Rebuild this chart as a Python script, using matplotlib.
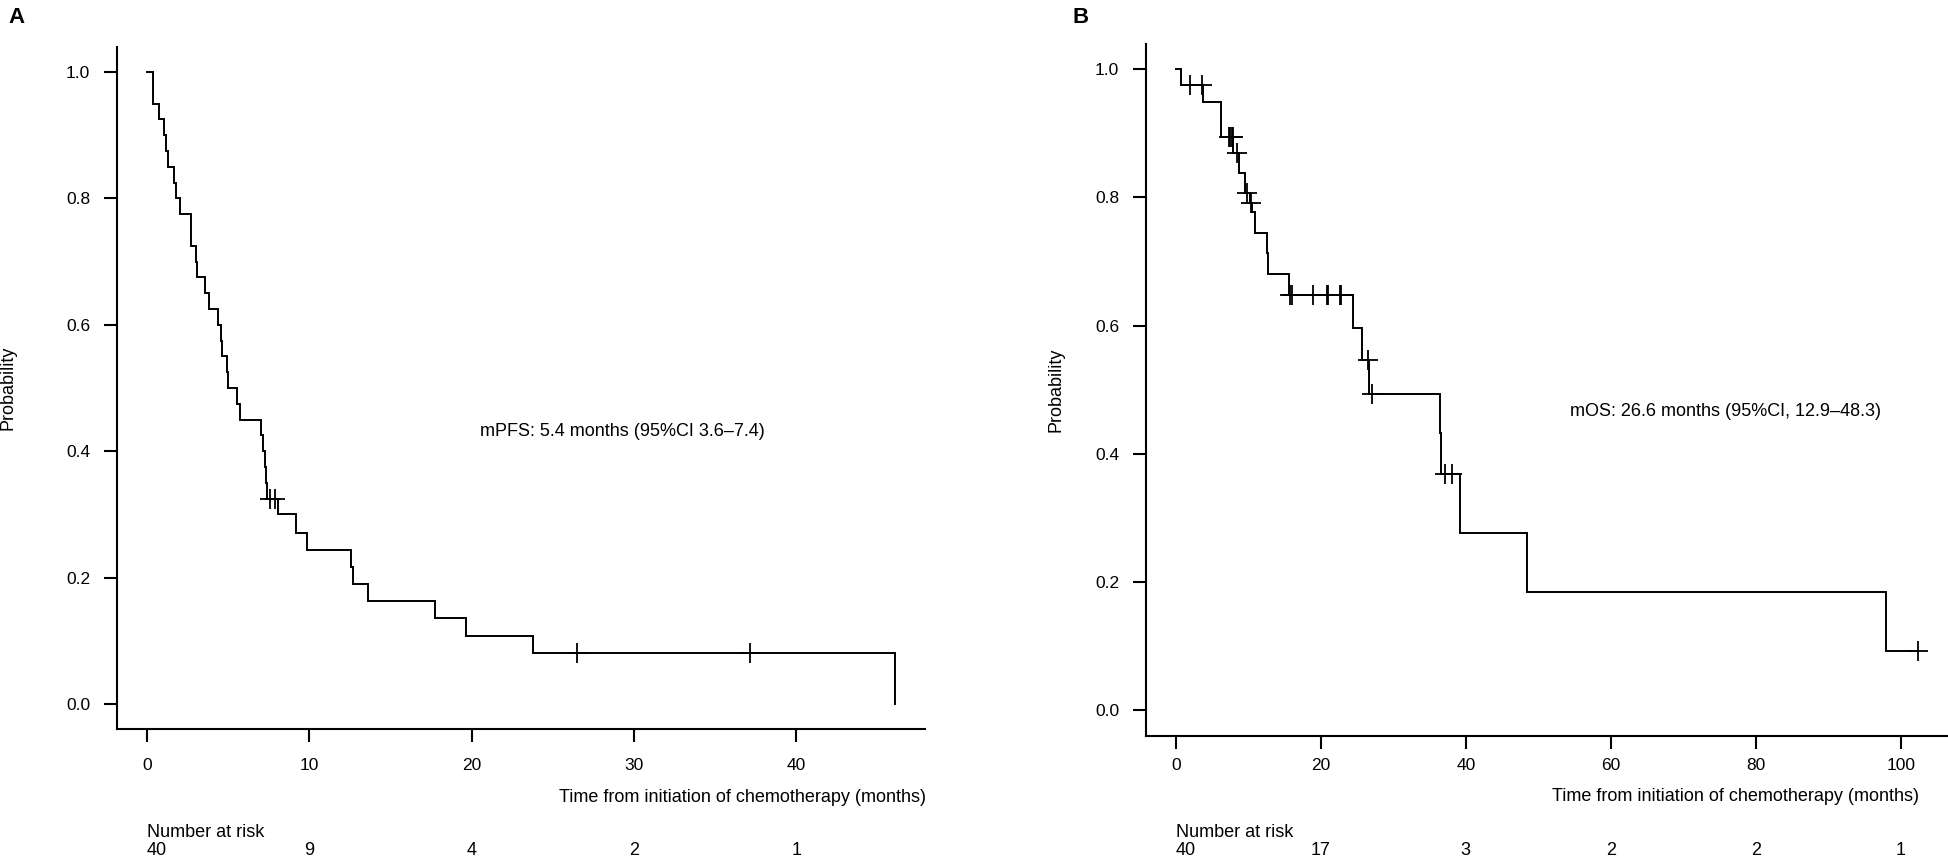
import numpy as np
import matplotlib
matplotlib.use("Agg")
import matplotlib.pyplot as plt
from matplotlib.transforms import blended_transform_factory

plt.rcParams["font.family"] = ["Liberation Sans", "DejaVu Sans"]

W, H = 1948, 859

# -----------------------
#   Panel A: PFS
# -----------------------
pfs_times = [0.37, 0.74, 1.05, 1.15, 1.27, 1.68, 1.77, 2.01, 2.73, 3.00, 3.10,
             3.55, 3.80, 4.36, 4.56, 4.64, 4.91, 4.97, 5.53, 5.71, 7.05, 7.17,
             7.28, 7.35, 7.40, 8.06, 9.17, 9.83, 12.57, 12.71, 13.63, 17.77,
             19.65, 23.79, 46.08]
pfs_surv = [0.950, 0.925, 0.900, 0.875, 0.850, 0.825, 0.800, 0.775, 0.725, 0.700,
            0.675, 0.650, 0.625, 0.600, 0.575, 0.550, 0.525, 0.500, 0.475, 0.450,
            0.425, 0.400, 0.375, 0.350, 0.325, 0.300, 0.271, 0.244, 0.217, 0.190,
            0.163, 0.136, 0.108, 0.081, 0.000]
pfs_end = 46.08
pfs_censor = [7.56, 7.90, 26.5, 37.17]
pfs_ticks = [0, 10, 20, 30, 40]
pfs_at_risk = [40, 9, 4, 2, 1]
pfs_note = "mPFS: 5.4 months (95%CI 3.6\u20137.4)"

# -----------------------
#   Panel B: OS
# -----------------------
os_times = [0.78, 3.8, 6.2, 7.95, 8.7, 9.6, 10.2, 10.5, 11.0, 12.6, 12.7, 15.6,
            24.4, 25.7, 26.6, 36.5, 36.6, 39.2, 48.4, 98.0]
os_surv = [0.975, 0.949, 0.895, 0.869, 0.838, 0.807, 0.792, 0.777, 0.745, 0.713,
           0.680, 0.648, 0.596, 0.546, 0.493, 0.432, 0.368, 0.276, 0.184, 0.092]
os_end = 102.4
os_censor = [2.0, 3.6, 7.4, 7.55, 7.7, 7.85, 8.4, 9.9, 10.4, 15.8, 16.0, 18.9,
             20.8, 21.0, 22.6, 22.8, 26.5, 27.1, 37.1, 38.1, 102.4]
os_ticks = [0, 20, 40, 60, 80, 100]
os_at_risk = [40, 17, 3, 2, 2, 1]
os_note = "mOS: 26.6 months (95%CI, 12.9\u201348.3)"

y_ticks = [0.0, 0.2, 0.4, 0.6, 0.8, 1.0]
x_title = "Time from initiation of chemotherapy (months)"


def px_box(left, right, top, bottom):
    return [left / W, 1 - bottom / H, (right - left) / W, (bottom - top) / H]


def fx(x):
    return x / W


def fy(y):
    return 1 - y / H


def draw_km(ax, times, surv, end, censor, ticks, xpad):
    x = np.array([0.0] + list(times) + [end])
    y = np.array([1.0] + list(surv) + [surv[-1]])
    ax.step(x, y, where="post", color="black", lw=1.4, solid_joinstyle="miter")

    # censor marks sit on the curve
    idx = np.searchsorted(x, censor, side="right") - 1
    ax.plot(censor, y[idx], ls="none", marker="+", color="black",
            markersize=14, markeredgewidth=1.3)

    ax.set_xlim(-0.04 * end, 1.04 * end)
    ax.set_ylim(-0.04, 1.04)
    ax.set_xticks(ticks)
    ax.set_yticks(y_ticks)
    ax.set_yticklabels([f"{v:.1f}" for v in y_ticks])
    for s in ["top", "right"]:
        ax.spines[s].set_visible(False)
    for s in ["left", "bottom"]:
        ax.spines[s].set_linewidth(1.5)
    ax.tick_params(axis="both", direction="out", length=9.4, width=1.5,
                   labelsize=12.5)
    ax.tick_params(axis="y", pad=10)
    ax.tick_params(axis="x", pad=xpad)


fig = plt.figure(figsize=(W / 100, H / 100), dpi=100)

axA = fig.add_axes(px_box(117, 925, 46.7, 729.3))
draw_km(axA, pfs_times, pfs_surv, pfs_end, pfs_censor, pfs_ticks, xpad=11)

axB = fig.add_axes(px_box(1146, 1948, 43.7, 735.6))
draw_km(axB, os_times, os_surv, os_end, os_censor, os_ticks, xpad=7)

# panel letters
fig.text(fx(8), fy(23), "A", fontsize=16, fontweight="bold", va="baseline")
fig.text(fx(1072), fy(23), "B", fontsize=16, fontweight="bold", va="baseline")

# y titles
fig.text(fx(8), fy(388), "Probability", rotation=90, fontsize=13,
         ha="center", va="center")
fig.text(fx(1056), fy(390), "Probability", rotation=90, fontsize=13,
         ha="center", va="center")

# x titles, right aligned
fig.text(fx(926), fy(802), x_title, fontsize=13, ha="right", va="baseline")
fig.text(fx(1919), fy(801), x_title, fontsize=13, ha="right", va="baseline")

# median annotations
fig.text(fx(480), fy(436), pfs_note, fontsize=13, va="baseline")
fig.text(fx(1570), fy(416), os_note, fontsize=13, va="baseline")

# number at risk rows
for ax, ticks, risk in [(axA, pfs_ticks, pfs_at_risk), (axB, os_ticks, os_at_risk)]:
    tr = blended_transform_factory(ax.transData, fig.transFigure)
    ax.text(0, fy(837), "Number at risk", transform=tr, fontsize=13,
            ha="left", va="baseline")
    for i, (t, n) in enumerate(zip(ticks, risk)):
        ax.text(t, fy(855), str(n), transform=tr, fontsize=13,
                ha="left" if i == 0 else "center", va="baseline")

fig.savefig("out.png", dpi=100)
